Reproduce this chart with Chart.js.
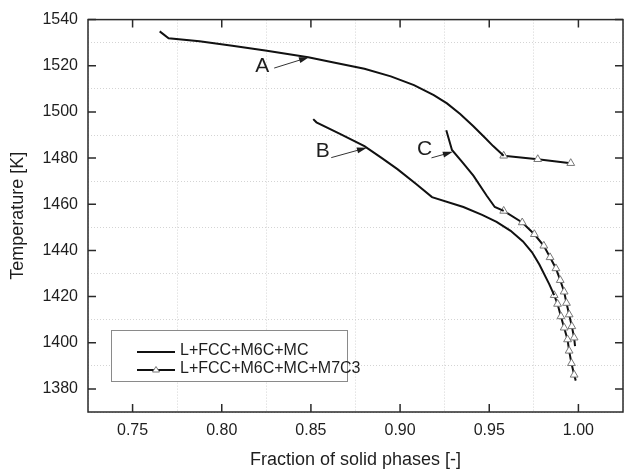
<!DOCTYPE html>
<html>
<head>
<meta charset="utf-8">
<script src="https://cdn.jsdelivr.net/npm/chart.js@4.4.1/dist/chart.umd.min.js"></script>
<style>
  html, body { margin: 0; padding: 0; overflow: hidden; background: #fff; }
  #wrap { width: 632px; height: 475px; }
</style>
</head>
<body>
<div id="wrap"><canvas id="solidChart" width="632" height="475"></canvas></div>
<script>
// legend names
const seriesNames = ['L+FCC+M6C+MC', 'L+FCC+M6C+MC+M7C3'];

// L+FCC+M6C+MC branches (fraction of solid, temperature K)
const fracA = [0.7652, 0.7702, 0.7875, 0.8059, 0.8244, 0.8485, 0.8614, 0.880, 0.8948, 0.9078, 0.9189, 0.9263, 0.9337, 0.9411, 0.9476, 0.9522, 0.9581];
const tempA = [1534.9, 1531.9, 1530.6, 1528.7, 1526.6, 1523.7, 1521.6, 1518.7, 1515.4, 1511.6, 1507.3, 1503.7, 1499.1, 1493.8, 1488.8, 1485.2, 1481.0];
const fracB = [0.8513, 0.8531, 0.866, 0.880, 0.890, 0.8985, 0.909, 0.9179, 0.9355, 0.946, 0.9541, 0.962, 0.9689, 0.974, 0.9781, 0.9837, 0.9864];
const tempB = [1496.9, 1495.5, 1490.6, 1485.2, 1479.9, 1475.2, 1468.8, 1463.1, 1458.8, 1455.4, 1452.4, 1448.5, 1443.9, 1439.2, 1433.9, 1425.3, 1420.6];
const fracC = [0.9259, 0.9291, 0.935, 0.9411, 0.9485, 0.9531, 0.9581];
const tempC = [1492.1, 1483.5, 1478.1, 1472.4, 1463.8, 1458.8, 1457.1];

// L+FCC+M6C+MC+M7C3 branches
const fracA7 = [0.9581, 0.9772, 0.9957];
const tempA7 = [1481.0, 1479.5, 1477.8];
const fracB7 = [0.9864, 0.9883, 0.9902, 0.9920, 0.9939, 0.9948, 0.9961, 0.9976, 0.9985];
const tempB7 = [1420.6, 1416.8, 1411.4, 1406.5, 1401.4, 1396.5, 1391.1, 1386.1, 1383.6];
const fracC7 = [0.9581, 0.9685, 0.9753, 0.9806, 0.9841, 0.9874, 0.9898, 0.9920, 0.9933, 0.9948, 0.9963, 0.9976, 0.9981];
const tempC7 = [1457.1, 1452.1, 1447.0, 1442.0, 1437.0, 1432.2, 1427.1, 1422.1, 1417.2, 1412.2, 1407.1, 1402.2, 1398.5];

// labelled arrows: letter position, arrow start, arrow tip
const noteLabels = ['A', 'B', 'C'];
const noteAt = [[0.8227, 1519.8], [0.8566, 1482.8], [0.9138, 1483.8]];
const noteFrom = [[0.8294, 1519.0], [0.8614, 1480.2], [0.9176, 1480.1]];
const noteTo = [[0.8489, 1523.7], [0.8814, 1484.5], [0.9296, 1482.7]];

const FONT = "'Liberation Sans', Arial, sans-serif";
const INK = '#1e1e1e';

const toPts = (xs, ys) => xs.map((x, i) => ({x: x, y: ys[i]}));
const onStep = (v, step) => Math.abs(v / step - Math.round(v / step)) < 1e-6;

function plainLine(label, xs, ys) {
    return {
        label: label, data: toPts(xs, ys), showLine: true,
        borderColor: '#111', borderWidth: 2, pointRadius: 0, tension: 0
    };
}
function markedLine(label, xs, ys, lastMarked) {
    return {
        label: label, data: toPts(xs, ys), showLine: true,
        borderColor: '#111', borderWidth: 2, tension: 0,
        pointStyle: 'triangle', backgroundColor: '#fff',
        pointBorderColor: '#777', pointBorderWidth: 1,
        pointRadius: ctx => (!lastMarked && ctx.dataIndex === ctx.dataset.data.length - 1) ? 0 : 4.5
    };
}

const decorations = {
    id: 'decorations',
    afterDatasetsDraw(chart) {
        const ctx = chart.ctx;
        const a = chart.chartArea;
        const xs = chart.scales.x, ys = chart.scales.y;
        ctx.save();

        // frame + inward ticks
        ctx.strokeStyle = '#2a2a2a';
        ctx.lineWidth = 1.5;
        ctx.strokeRect(a.left, a.top, a.right - a.left, a.bottom - a.top);
        ctx.beginPath();
        xs.ticks.forEach(t => {
            if (!onStep(t.value, 0.05)) return;
            const px = xs.getPixelForValue(t.value);
            ctx.moveTo(px, a.bottom); ctx.lineTo(px, a.bottom - 8);
            ctx.moveTo(px, a.top); ctx.lineTo(px, a.top + 8);
        });
        ys.ticks.forEach(t => {
            if (!onStep(t.value, 20)) return;
            const py = ys.getPixelForValue(t.value);
            ctx.moveTo(a.left, py); ctx.lineTo(a.left + 8, py);
            ctx.moveTo(a.right, py); ctx.lineTo(a.right - 8, py);
        });
        ctx.stroke();

        // arrows with letters
        ctx.fillStyle = INK;
        ctx.strokeStyle = '#333';
        ctx.lineWidth = 1;
        ctx.font = '21px ' + FONT;
        ctx.textAlign = 'center';
        ctx.textBaseline = 'middle';
        noteLabels.forEach((txt, i) => {
            ctx.fillText(txt, xs.getPixelForValue(noteAt[i][0]), ys.getPixelForValue(noteAt[i][1]));
            const x1 = xs.getPixelForValue(noteFrom[i][0]), y1 = ys.getPixelForValue(noteFrom[i][1]);
            const x2 = xs.getPixelForValue(noteTo[i][0]), y2 = ys.getPixelForValue(noteTo[i][1]);
            const ang = Math.atan2(y2 - y1, x2 - x1);
            ctx.beginPath(); ctx.moveTo(x1, y1); ctx.lineTo(x2 - 8 * Math.cos(ang), y2 - 8 * Math.sin(ang)); ctx.stroke();
            ctx.beginPath();
            ctx.moveTo(x2, y2);
            ctx.lineTo(x2 - 10 * Math.cos(ang) + 3 * Math.sin(ang), y2 - 10 * Math.sin(ang) - 3 * Math.cos(ang));
            ctx.lineTo(x2 - 10 * Math.cos(ang) - 3 * Math.sin(ang), y2 - 10 * Math.sin(ang) + 3 * Math.cos(ang));
            ctx.closePath(); ctx.fill();
        });

        // legend box
        const bx = a.left + 23, by = a.bottom - 82, bw = 236, bh = 51;
        ctx.fillStyle = '#fff';
        ctx.fillRect(bx, by, bw, bh);
        ctx.strokeStyle = '#8a8a8a';
        ctx.lineWidth = 1;
        ctx.strokeRect(bx + 0.5, by + 0.5, bw, bh);
        ctx.font = '16px ' + FONT;
        ctx.textAlign = 'left';
        seriesNames.forEach((name, i) => {
            const ly = by + 22 + i * 18;
            ctx.strokeStyle = '#111';
            ctx.lineWidth = 2;
            ctx.beginPath(); ctx.moveTo(bx + 26, ly); ctx.lineTo(bx + 64, ly); ctx.stroke();
            if (i === 1) {
                ctx.fillStyle = '#fff';
                ctx.strokeStyle = '#777';
                ctx.lineWidth = 1;
                ctx.beginPath();
                ctx.moveTo(bx + 45, ly - 3.5); ctx.lineTo(bx + 48.5, ly + 2); ctx.lineTo(bx + 41.5, ly + 2);
                ctx.closePath(); ctx.fill(); ctx.stroke();
            }
            ctx.fillStyle = INK;
            ctx.fillText(name, bx + 69, ly - 1);
        });
        ctx.restore();
    }
};

new Chart(document.getElementById('solidChart'), {
    type: 'scatter',
    data: {
        datasets: [
            plainLine(seriesNames[0], fracA, tempA),
            plainLine(seriesNames[0], fracB, tempB),
            plainLine(seriesNames[0], fracC, tempC),
            markedLine(seriesNames[1], fracA7, tempA7, true),
            markedLine(seriesNames[1], fracB7, tempB7, false),
            markedLine(seriesNames[1], fracC7, tempC7, false)
        ]
    },
    options: {
        responsive: false,
        animation: false,
        layout: {padding: {top: 15, right: 4, left: 0, bottom: 0}},
        plugins: {legend: {display: false}, tooltip: {enabled: false}},
        scales: {
            x: {
                type: 'linear', min: 0.725, max: 1.025,
                afterFit: s => { s.height = 63; },
                ticks: {
                    stepSize: 0.025, autoSkip: false, maxRotation: 0, padding: 9,
                    color: INK, font: {family: FONT, size: 16},
                    callback: v => onStep(v, 0.05) ? v.toFixed(2) : ''
                },
                grid: {
                    drawTicks: false, lineWidth: 1,
                    color: c => (c.tick && !onStep(c.tick.value, 0.05)) ? '#d4d4d4' : 'rgba(0,0,0,0)'
                },
                border: {display: false, dash: [1, 2]},
                title: {display: true, text: 'Fraction of solid phases [-]', color: INK,
                    font: {family: FONT, size: 18}, padding: {top: 0, bottom: 4}}
            },
            y: {
                type: 'linear', min: 1370, max: 1540,
                afterFit: s => { s.width = 88; },
                ticks: {
                    stepSize: 10, autoSkip: false, padding: 10,
                    color: INK, font: {family: FONT, size: 16},
                    callback: v => onStep(v, 20) ? String(v) : ''
                },
                grid: {
                    drawTicks: false, lineWidth: 1,
                    color: c => (c.tick && !onStep(c.tick.value, 20)) ? '#d4d4d4' : 'rgba(0,0,0,0)'
                },
                border: {display: false, dash: [1, 2]},
                title: {display: true, text: 'Temperature [K]', color: INK,
                    font: {family: FONT, size: 18}, padding: {top: 7, bottom: 0}}
            }
        }
    },
    plugins: [decorations]
});
</script>
</body>
</html>
